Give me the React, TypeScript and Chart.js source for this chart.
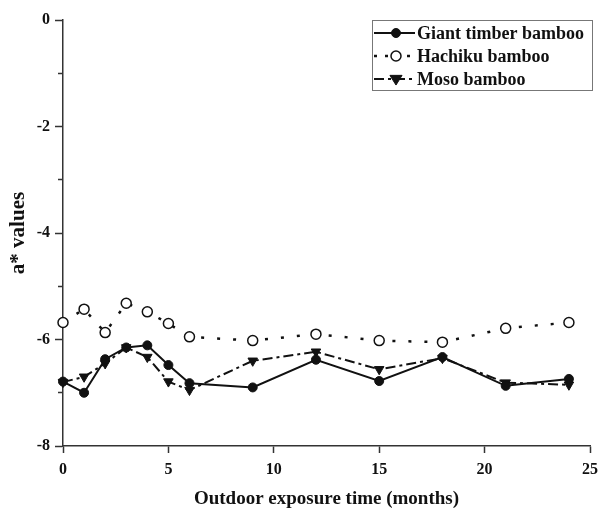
import React, { useEffect, useRef } from "react";
import { Chart, registerables } from "chart.js";

Chart.register(...registerables);

const months = [0, 1, 2, 3, 4, 5, 6, 9, 12, 15, 18, 21, 24];
const giantTimber = [-6.79, -7.0, -6.37, -6.15, -6.11, -6.48, -6.82, -6.9, -6.38, -6.78, -6.33, -6.87, -6.74];
const hachiku = [-5.68, -5.43, -5.87, -5.32, -5.48, -5.7, -5.95, -6.02, -5.9, -6.02, -6.05, -5.79, -5.68];
const moso = [-6.8, -6.7, -6.45, -6.15, -6.33, -6.79, -6.95, -6.4, -6.23, -6.56, -6.35, -6.81, -6.85];
const seriesNames = ["Giant timber bamboo", "Hachiku bamboo", "Moso bamboo"];
const xTitle = "Outdoor exposure time (months)";
const yTitle = "a* values";

const FONT = "'Liberation Serif', 'Times New Roman', serif";
const INK = "#111";

function drawMarker(ctx: CanvasRenderingContext2D, ds: any, x: number, y: number) {
  const r = ds.pointRadius;
  ctx.save();
  ctx.setLineDash([]);
  ctx.lineWidth = ds.pointBorderWidth;
  ctx.strokeStyle = ds.pointBorderColor;
  ctx.fillStyle = ds.pointBackgroundColor;
  ctx.beginPath();
  if (ds.pointStyle === "triangle") {
    const s = r * 1.1;
    ctx.moveTo(x - s, y - s * 0.6);
    ctx.lineTo(x + s, y - s * 0.6);
    ctx.lineTo(x, y + s * 1.0);
    ctx.closePath();
  } else {
    ctx.arc(x, y, r, 0, Math.PI * 2);
  }
  ctx.fill();
  ctx.stroke();
  ctx.restore();
}

const boxLegend = {
  id: "boxLegend",
  afterDraw(chart: any) {
    const ctx: CanvasRenderingContext2D = chart.ctx;
    const left = 372, top = 20, right = 592, bottom = 90;
    ctx.save();
    ctx.strokeStyle = "#777";
    ctx.lineWidth = 1;
    ctx.setLineDash([]);
    ctx.strokeRect(left + 0.5, top + 0.5, right - left, bottom - top);
    chart.data.datasets.forEach((ds: any, i: number) => {
      const y = 33 + i * 23;
      ctx.save();
      ctx.strokeStyle = ds.borderColor;
      ctx.lineWidth = ds.borderWidth;
      ctx.setLineDash(ds.legendDash || ds.borderDash || []);
      ctx.beginPath();
      ctx.moveTo(374, y);
      ctx.lineTo(415, y);
      ctx.stroke();
      ctx.restore();
      drawMarker(ctx, ds, 396, y);
      ctx.fillStyle = INK;
      ctx.font = `bold 18px ${FONT}`;
      ctx.textBaseline = "middle";
      ctx.textAlign = "left";
      ctx.fillText(ds.label, 417, y + 1);
    });
    ctx.restore();
  },
};

export default function App() {
  const ref = useRef<HTMLCanvasElement | null>(null);

  useEffect(() => {
    if (!ref.current) return;
    const mk = (vals: number[]) => vals.map((v, i) => ({ x: months[i], y: v }));
    const chart = new Chart(ref.current, {
      type: "line",
      data: {
        datasets: [
          {
            label: seriesNames[0],
            data: mk(giantTimber),
            borderColor: INK,
            borderWidth: 2,
            borderDash: [],
            pointStyle: "circle",
            pointRadius: 4.5,
            pointBackgroundColor: INK,
            pointBorderColor: INK,
            pointBorderWidth: 1,
            tension: 0,
            clip: false,
          },
          {
            label: seriesNames[1],
            data: mk(hachiku),
            borderColor: INK,
            borderWidth: 2.5,
            borderDash: [3, 13],
            legendDash: [3, 8],
            pointStyle: "circle",
            pointRadius: 5,
            pointBackgroundColor: "#fff",
            pointBorderColor: INK,
            pointBorderWidth: 1.5,
            tension: 0,
            clip: false,
          } as any,
          {
            label: seriesNames[2],
            data: mk(moso),
            borderColor: INK,
            borderWidth: 2,
            borderDash: [10, 4, 3, 4],
            pointStyle: "triangle",
            rotation: 180,
            pointRadius: 5.5,
            pointBackgroundColor: INK,
            pointBorderColor: INK,
            pointBorderWidth: 1,
            tension: 0,
            clip: false,
          } as any,
        ],
      },
      options: {
        animation: false,
        responsive: false,
        maintainAspectRatio: false,
        layout: { padding: { top: 20, right: 12, left: 0, bottom: 0 } },
        plugins: { legend: { display: false }, tooltip: { enabled: false } },
        scales: {
          x: {
            type: "linear",
            min: 0,
            max: 25,
            ticks: {
              stepSize: 5,
              padding: 7,
              maxRotation: 0,
              color: INK,
              font: { family: FONT, size: 16, weight: "bold" },
            },
            grid: {
              drawOnChartArea: false,
              drawTicks: true,
              tickLength: 7,
              tickColor: "#333",
              tickWidth: 1.5,
            },
            border: { display: true, color: "#333", width: 1.5 },
            title: {
              display: true,
              text: xTitle,
              color: INK,
              font: { family: FONT, size: 19, weight: "bold" },
              padding: { top: 0, bottom: 1 },
            },
            afterFit: (scale: any) => {
              scale.height = 65;
              scale.paddingLeft = 0;
              scale.paddingRight = 0;
            },
          },
          y: {
            type: "linear",
            min: -8,
            max: 0,
            ticks: {
              stepSize: 1,
              padding: 5,
              color: INK,
              font: { family: FONT, size: 16, weight: "bold" },
              callback: (v: any) => (Number(v) % 2 === 0 ? String(v) : ""),
            },
            grid: {
              drawOnChartArea: false,
              drawTicks: true,
              tickLength: 8,
              tickColor: "#333",
              tickWidth: 1.5,
              tickBorderDash: (c: any) => (c.tick && Math.abs(c.tick.value) % 2 === 1 ? [0, 3, 5] : []),
            } as any,
            border: { display: true, color: "#333", width: 1.5 },
            title: {
              display: true,
              text: yTitle,
              color: INK,
              font: { family: FONT, size: 21, weight: "bold" },
              padding: { top: 6, bottom: 0 },
            },
            afterFit: (scale: any) => {
              scale.width = 63;
              scale.paddingTop = 0;
              scale.paddingBottom = 0;
            },
          },
        },
      } as any,
      plugins: [boxLegend],
    });
    return () => chart.destroy();
  }, []);

  return (
    <div style={{ position: "fixed", left: 0, top: 0, width: 602, height: 511, background: "#fff" }}>
      <canvas ref={ref} width={602} height={511} style={{ width: 602, height: 511, display: "block" }} />
    </div>
  );
}
